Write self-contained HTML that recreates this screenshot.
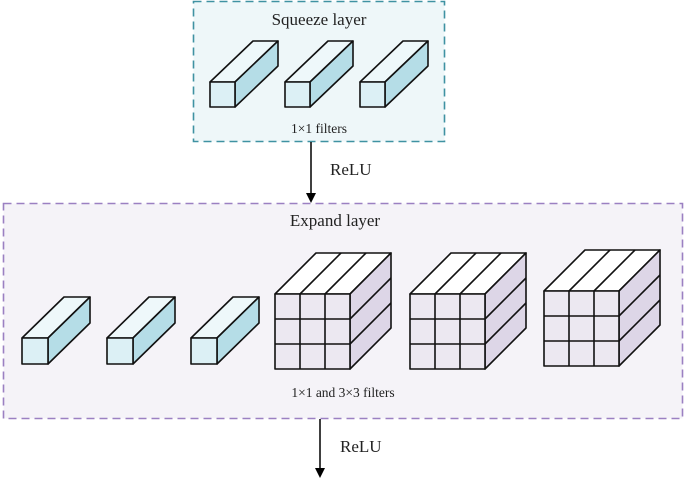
<!DOCTYPE html>
<html><head><meta charset="utf-8"><style>
html,body{margin:0;padding:0;background:#fff;}
svg{display:block;}
text{font-family:"Liberation Serif",serif;fill:#222;}
</style></head><body>
<svg id="s" width="685" height="481" viewBox="0 0 685 481" xmlns="http://www.w3.org/2000/svg">
<defs><marker id="ah" markerWidth="10" markerHeight="10" refX="5" refY="9" orient="auto" markerUnits="userSpaceOnUse"><path d="M0,0 L10,0 L5,10 Z" fill="#000" transform="rotate(-90 5 5)"/></marker></defs>
<rect x="193.5" y="1.5" width="251" height="140" fill="#eef7f9" stroke="#3f92a2" stroke-width="1.6" stroke-dasharray="8,5"/>
<rect x="3.5" y="203.5" width="679" height="215" fill="#f5f3f8" stroke="#9b80c2" stroke-width="1.6" stroke-dasharray="8,5"/>
<text x="319" y="25" font-size="17" text-anchor="middle">Squeeze layer</text>
<text x="319" y="133" font-size="13.5" text-anchor="middle">1×1 filters</text>
<text x="330" y="175" font-size="17">ReLU</text>
<text x="335" y="226" font-size="17" text-anchor="middle">Expand layer</text>
<text x="343" y="397" font-size="13.5" text-anchor="middle">1×1 and 3×3 filters</text>
<text x="340" y="452" font-size="17">ReLU</text>
<line x1="311" y1="142" x2="311" y2="196" stroke="#000" stroke-width="1.5"/>
<path d="M306,193 L316,193 L311,203 Z" fill="#000"/>
<line x1="320" y1="419" x2="320" y2="471" stroke="#000" stroke-width="1.5"/>
<path d="M315,468 L325,468 L320,478 Z" fill="#000"/>
<g id="g"></g>
</svg>
<script>
var g=document.getElementById('g'),h='';
function poly(pts,fill){h+='<polygon points="'+pts.map(p=>p.join(',')).join(' ')+'" fill="'+fill+'" stroke="#111" stroke-width="1.6" stroke-linejoin="round"/>';}
function line(a,b){h+='<line x1="'+a[0]+'" y1="'+a[1]+'" x2="'+b[0]+'" y2="'+b[1]+'" stroke="#111" stroke-width="1.6"/>';}
function prism(x,y,s,dx,dy){
 poly([[x,y],[x+s,y],[x+s+dx,y-dy],[x+dx,y-dy]],'#eef8fa');
 poly([[x+s,y],[x+s+dx,y-dy],[x+s+dx,y+s-dy],[x+s,y+s]],'#b5dde7');
 poly([[x,y],[x+s,y],[x+s,y+s],[x,y+s]],'#dcf0f5');
}
function cube(x,y,s,d){
 var c=s/3;
 poly([[x,y],[x+s,y],[x+s+d,y-d],[x+d,y-d]],'#ffffff');
 poly([[x+s,y],[x+s+d,y-d],[x+s+d,y+s-d],[x+s,y+s]],'#ddd6e7');
 poly([[x,y],[x+s,y],[x+s,y+s],[x,y+s]],'#ece8f1');
 for(var i=1;i<3;i++){
  line([x+c*i,y],[x+c*i,y+s]); line([x,y+c*i],[x+s,y+c*i]);
  line([x+c*i,y],[x+c*i+d,y-d]); line([x+s,y+c*i],[x+s+d,y+c*i-d]);
 }
}
prism(210,82,25,43,41);prism(285,82,25,43,41);prism(360,82,25,43,41);
prism(22,338,26,42,41);prism(107,338,26,42,41);prism(191,338,26,42,41);
cube(275,294,75,41);cube(410,294,75,41);cube(544,291,75,41);
g.innerHTML=h;
</script>
</body></html>
